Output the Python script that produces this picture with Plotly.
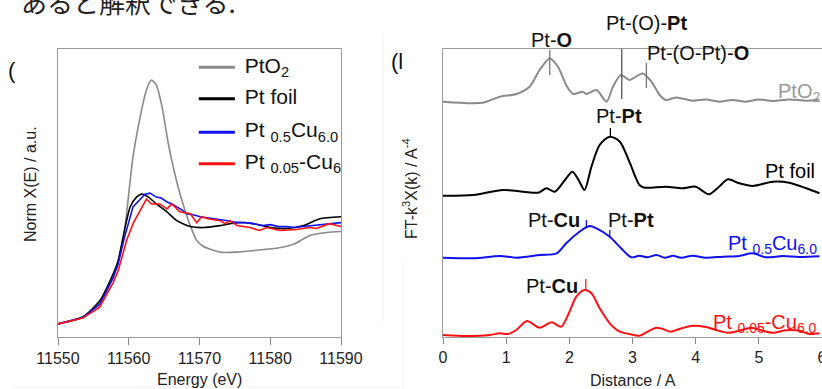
import plotly.graph_objects as go

# ---------------- Left panel: XANES (Pt L3-edge) ----------------
E_pto2 = [11550, 11553.5, 11555.9, 11557.8, 11559.2, 11560.6, 11561.8, 11562.5, 11563.2, 11563.9,
          11564.7, 11565.6, 11566.5, 11567.5, 11568.7, 11569.6, 11570.5, 11572.9, 11575.3, 11578.1,
          11580.9, 11583.3, 11585.6, 11588.0, 11590]
mu_pto2 = [0.0, 0.07, 0.21, 0.48, 0.85, 1.70, 2.17, 2.38, 2.48, 2.43,
           2.21, 1.83, 1.53, 1.26, 1.00, 0.85, 0.79, 0.73, 0.73, 0.75,
           0.77, 0.81, 0.90, 0.93, 0.94]

E_foil = [11550, 11553.5, 11555.9, 11557.8, 11558.5, 11559.1, 11560.2, 11561.1, 11561.8, 11562.8,
          11563.9, 11565.4, 11566.8, 11568.7, 11570.5, 11572.9, 11575.3, 11577.6, 11580.0, 11582.3,
          11584.7, 11587.0, 11590]
mu_foil = [0.0, 0.07, 0.235, 0.51, 0.64, 0.85, 1.19, 1.29, 1.32, 1.29,
           1.22, 1.14, 1.05, 0.99, 0.98, 1.00, 1.03, 1.02, 0.98, 0.97,
           1.00, 1.07, 1.09]

E_pt05 = [11550, 11553.5, 11555.9, 11557.8, 11558.5, 11559.4, 11560.6, 11561.6, 11562.3, 11563.0,
          11563.9, 11564.6, 11565.4, 11566.1, 11566.8, 11567.5, 11568.2, 11569.1, 11570.1, 11571.2,
          11572.9, 11574.0, 11575.3, 11576.5, 11577.6, 11579.0, 11580.0, 11581.2, 11582.3, 11583.5,
          11584.7, 11586.0, 11587.0, 11588.5, 11590]
mu_pt05 = [0.0, 0.065, 0.20, 0.47, 0.61, 0.88, 1.19, 1.27, 1.32, 1.33,
           1.29, 1.28, 1.24, 1.22, 1.19, 1.16, 1.12, 1.11, 1.09, 1.08,
           1.06, 1.05, 1.03, 1.03, 1.02, 1.00, 1.01, 0.99, 0.99, 0.98,
           0.99, 1.00, 1.01, 1.02, 1.03]

E_pt005 = [11550, 11553.5, 11555.9, 11557.8, 11558.5, 11559.7, 11560.6, 11561.6, 11562.5, 11563.2,
           11564.4, 11565.4, 11566.1, 11567.2, 11568.7, 11569.6, 11570.3, 11571.2, 11572.9, 11573.6,
           11574.3, 11575.3, 11577.1, 11578.5, 11579.5, 11581.4, 11583.7, 11585.6, 11586.5, 11588.4,
           11590]
mu_pt005 = [0.0, 0.06, 0.17, 0.42, 0.54, 0.85, 1.02, 1.15, 1.27, 1.22,
            1.22, 1.17, 1.22, 1.14, 1.12, 1.03, 1.09, 1.07, 1.05, 1.02,
            1.05, 1.00, 0.98, 0.95, 0.98, 0.95, 0.96, 0.98, 0.97, 1.02,
            0.99]

# ---------------- Right panel: FT-EXAFS (offset stacked) ----------------
R_pto2 = [0, 0.63, 0.9, 1.16, 1.37, 1.53, 1.69, 1.82, 1.95, 2.06, 2.21, 2.27, 2.43, 2.59, 2.69,
          2.82, 2.95, 3.16, 3.30, 3.43, 3.53, 3.69, 3.95, 4.16, 4.37, 4.58, 4.80, 5.0, 5.22, 5.48,
          5.75, 5.96]
ft_pto2 = [0, -0.1, 0.5, 0.77, 1.5, 3.17, 4.33, 3.5, 1.67, 0.77, 1.0, 0.77, 1.17, 0, 1.5,
           2.67, 2.17, 2.83, 2.0, 0.67, 0.17, 0.43, 0.1, 0.23, 0, 0.17, 0, 0.23, 0.07, 0.23,
           0.1, 0.23]

R_foil = [0, 0.48, 0.95, 1.27, 1.51, 1.64, 1.77, 1.93, 2.05, 2.16, 2.24, 2.35, 2.48, 2.64, 2.80,
          2.95, 3.11, 3.19, 3.53, 3.79, 4.0, 4.21, 4.37, 4.51, 4.69, 4.90, 5.22, 5.48, 5.75, 5.96]
ft_foil = [-0.07, 0, 0.5, 0.33, 0.23, 0.67, 0.33, 1.5, 2.33, 1.33, 0.5, 2.83, 5.0, 5.83, 5.33,
           3.33, 1.0, 0.73, 0.83, 0.67, 0.83, 0.07, 0.83, 1.57, 1.17, 0.9, 1.33, 1.23, 0.67, 0.17]

R_pt05 = [0, 0.48, 0.9, 1.16, 1.53, 1.8, 1.95, 2.16, 2.32, 2.43, 2.64, 2.82, 2.98, 3.11, 3.24,
          3.38, 3.51, 3.64, 3.77, 3.95, 4.16, 4.43, 4.69, 4.90, 5.11, 5.38, 5.64, 5.96]
ft_pt05 = [0.03, -0.03, 0.2, 0.03, 0.3, 0.47, 1.47, 2.63, 3.2, 2.97, 2.13, 0.97, 0.07, 0.23, 0.07,
           0.3, 0.03, 0.23, 0.03, 0.23, 0.03, 0.13, 0.2, 0.47, 0.07, 0.2, 0.1, 0.17]

R_pt005 = [0, 0.37, 0.74, 0.9, 1.03, 1.16, 1.33, 1.53, 1.72, 1.87, 1.98, 2.11, 2.24, 2.35, 2.48,
           2.64, 2.80, 2.95, 3.11, 3.24, 3.38, 3.48, 3.61, 3.74, 3.95, 4.16, 4.32, 4.51, 4.69, 4.88,
           5.06, 5.22, 5.43, 5.64, 5.80, 5.96]
ft_pt005 = [0, -0.1, 0, 0.17, 0.1, 0.5, 1.4, 0.73, 1.27, 0.83, 2.0, 3.83, 4.5, 4.17, 2.67,
            1.17, 0.33, 0.1, -0.07, 0.33, 0.73, 0.6, 0.33, 0.6, 0.93, 0.8, 0.5, 0.23, 0.43, 0.73,
            0.43, 0.23, 0.47, 0.43, 0.1, 0.17]

series_names = ["PtO<sub>2</sub>", "Pt foil", "Pt <sub>0.5</sub>Cu<sub>6.0</sub>",
                "Pt <sub>0.05</sub>-Cu<sub>6.0</sub>"]
offsets = [23.53, 14.2, 7.9, 0.2]

x_ticks_E = [11550, 11560, 11570, 11580, 11590]
x_ticks_R = [0, 1, 2, 3, 4, 5, 6]

GRAY = "#8a8a8a"
BLACK = "#000000"
BLUE = "#1010f0"
RED = "#ff1010"
colors = [GRAY, BLACK, BLUE, RED]
FONT = "Liberation Sans, Arial, sans-serif"

W, H = 822, 389
YD = [1 - 337 / H, 1 - 49 / H]
R_RANGE = [0, 6]
Y2_RANGE = [0, 28.8]

fig = go.Figure()

left = [(E_pto2, mu_pto2, "spline"), (E_foil, mu_foil, "spline"),
        (E_pt05, mu_pt05, "linear"), (E_pt005, mu_pt005, "linear")]
for (ex, mu, shp), c in zip(left, colors):
    fig.add_trace(go.Scatter(x=ex, y=mu, mode="lines", xaxis="x", yaxis="y",
                             line=dict(color=c, width=1.6, shape=shp, smoothing=0.6),
                             showlegend=False, hoverinfo="skip"))

right = [(R_pto2, ft_pto2), (R_foil, ft_foil), (R_pt05, ft_pt05), (R_pt005, ft_pt005)]
for (rx, ft), off, c in zip(right, offsets, colors):
    fig.add_trace(go.Scatter(x=rx, y=[v + off for v in ft], mode="lines", xaxis="x2", yaxis="y2",
                             line=dict(color=c, width=2, shape="spline", smoothing=0.8),
                             showlegend=False, hoverinfo="skip"))

# Legend of left panel (text clipped by the axes box, like the reference)
leg_y = [2.61, 2.29, 1.95, 1.63]
shapes = []
for yy, c in zip(leg_y, colors):
    shapes.append(dict(type="line", xref="x", yref="y", x0=11569.9, x1=11575.0, y0=yy, y1=yy,
                       line=dict(color=c, width=3)))
fig.add_trace(go.Scatter(x=[11576.4] * 4, y=leg_y, mode="text", text=series_names,
                         textposition="middle right", cliponaxis=True,
                         textfont=dict(family=FONT, size=21, color="#111"),
                         xaxis="x", yaxis="y", showlegend=False, hoverinfo="skip"))

# marker lines in right panel
marks = [(1.69, 26.2, 28.7, "#777"), (2.83, 23.8, 30.5, "#555"), (3.22, 24.9, 27.4, "#777"),
         (2.65, 20.1, 20.9, BLACK), (2.27, 11.0, 11.7, BLUE), (2.64, 10.0, 10.7, BLUE),
         (2.26, 4.6, 5.8, RED)]
for xm, y0, y1, c in marks:
    shapes.append(dict(type="line", xref="x2", yref="y2", x0=xm, x1=xm, y0=y0, y1=y1,
                       line=dict(color=c, width=1.3)))

# faint page artefacts
for s in [dict(x0=383, x1=383, y0=33, y1=323), dict(x0=403, x1=403, y0=262, y1=389),
          dict(x0=13, x1=400, y0=387, y1=387)]:
    shapes.append(dict(type="line", xref="paper", yref="paper",
                       x0=s["x0"] / W, x1=s["x1"] / W, y0=1 - s["y0"] / H, y1=1 - s["y1"] / H,
                       line=dict(color="#efefef", width=1)))

ann = []
def A(text, x, y, size=20, color="#111", xanchor="center", textangle=0, family=FONT):
    ann.append(dict(text=text, x=x, y=y, xref="paper", yref="paper", showarrow=False,
                    xanchor=xanchor, yanchor="middle", textangle=textangle,
                    font=dict(family=family, size=size, color=color)))

def D(text, r, v, **kw):
    # position given in right-panel data units, converted to paper coords
    xd = [443 / W, 1.0]
    px = xd[0] + (r - R_RANGE[0]) / (R_RANGE[1] - R_RANGE[0]) * (xd[1] - xd[0])
    py = YD[0] + (v - Y2_RANGE[0]) / (Y2_RANGE[1] - Y2_RANGE[0]) * (YD[1] - YD[0])
    A(text, px, py, **kw)

def P(text, px, py, **kw):
    A(text, px / W, 1 - py / H, **kw)

D("Pt-<b>O</b>", 1.72, 29.7)
D("Pt-(O)-<b>Pt</b>", 3.22, 31.4)
D("Pt-(O-Pt)-<b>O</b>", 4.03, 28.4)
D("Pt-<b>Pt</b>", 2.78, 22.1)
D("Pt-<b>Cu</b>", 1.75, 11.7)
D("Pt-<b>Pt</b>", 2.98, 11.7)
D("Pt-<b>Cu</b>", 1.72, 5.1)

D(series_names[0], 6.0, 24.5, color="#9a9a9a", xanchor="right")
D(series_names[1], 5.92, 16.6, color=BLACK, xanchor="right")
D(series_names[2], 5.96, 9.3, color=BLUE, xanchor="right")
D(series_names[3], 5.96, 1.4, color=RED, xanchor="right")

P("Energy (eV)", 199, 379, size=16, color="#222")
P("Distance / A", 633, 380, size=16, color="#222")
P("Norm X(E) / a.u.", 30, 184, size=16, color="#222", textangle=-90)
P("FT-k<sup>3</sup>X(k) / A<sup>-4</sup>", 410, 189, size=16, color="#222", textangle=-90)
P("(", 12, 70, size=22, color="#111")
P("(l", 397, 61, size=22, color="#111")
P("あると解釈できる.", 128, 1, size=26, color="#222", family="Noto Sans CJK JP")

axcommon = dict(showgrid=False, zeroline=False, showline=True, linecolor="#999", linewidth=1,
                automargin=False, ticklabeloverflow="allow")
fig.update_layout(
    template="none",
    width=W, height=H, margin=dict(l=0, r=0, t=0, b=0, pad=0), autosize=False,
    paper_bgcolor="white", plot_bgcolor="white", showlegend=False,
    font=dict(family=FONT, color="#222"),
    xaxis=dict(domain=[58 / W, 341 / W], range=[11550, 11590], tickvals=x_ticks_E,
               tickformat="d", ticks="outside", ticklen=7, tickcolor="#888", mirror=True,
               tickfont=dict(size=16, color="#222"), anchor="y", **axcommon),
    yaxis=dict(domain=YD, range=[-0.133, 2.796], showticklabels=False, ticks="",
               mirror=True, anchor="x", **axcommon),
    xaxis2=dict(domain=[443 / W, 1.0], range=R_RANGE, tickvals=x_ticks_R, tickformat="d",
                ticks="outside", ticklen=6, tickcolor="#888", mirror=True,
                tickfont=dict(size=16, color="#222"), anchor="y2", **axcommon),
    yaxis2=dict(domain=YD, range=Y2_RANGE, showticklabels=False, ticks="",
                mirror=False, anchor="x2", **axcommon),
    shapes=shapes, annotations=ann,
)

fig.write_html("out.html", config={"displayModeBar": False, "staticPlot": True},
               post_script="document.body.style.margin='0';")
